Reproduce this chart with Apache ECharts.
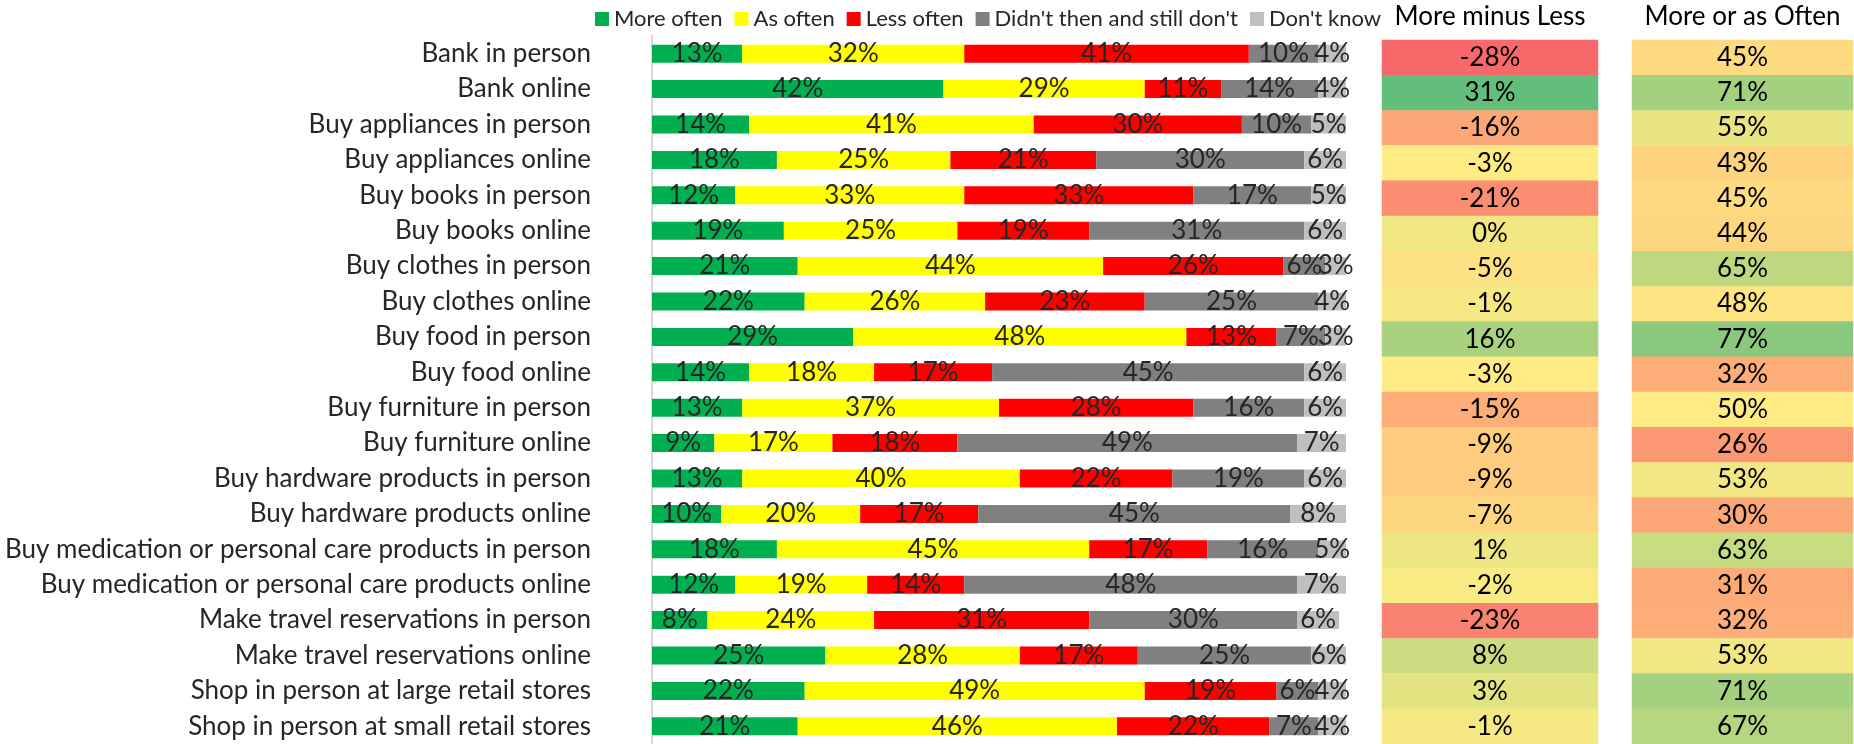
<!DOCTYPE html>
<html>
<head>
<meta charset="utf-8">
<title>More often / less often</title>
<script src="https://cdn.jsdelivr.net/npm/echarts@6/dist/echarts.min.js"></script>
<style>
  html, body { margin: 0; padding: 0; background: #fff; }
  #chart { width: 1854px; height: 744px; }
</style>
</head>
<body>
<div id="chart"></div>
<script>
const categories = [
  "Bank in person",
  "Bank online",
  "Buy appliances in person",
  "Buy appliances online",
  "Buy books in person",
  "Buy books online",
  "Buy clothes in person",
  "Buy clothes online",
  "Buy food in person",
  "Buy food online",
  "Buy furniture in person",
  "Buy furniture online",
  "Buy hardware products in person",
  "Buy hardware products online",
  "Buy medication or personal care products in person",
  "Buy medication or personal care products online",
  "Make travel reservations in person",
  "Make travel reservations online",
  "Shop in person at large retail stores",
  "Shop in person at small retail stores",
];
const seriesNames = ["More often", "As often", "Less often", "Didn't then and still don't", "Don't know"];
const moreOften = [13, 42, 14, 18, 12, 19, 21, 22, 29, 14, 13, 9, 13, 10, 18, 12, 8, 25, 22, 21];
const asOften = [32, 29, 41, 25, 33, 25, 44, 26, 48, 18, 37, 17, 40, 20, 45, 19, 24, 28, 49, 46];
const lessOften = [41, 11, 30, 21, 33, 19, 26, 23, 13, 17, 28, 18, 22, 17, 17, 14, 31, 17, 19, 22];
const didntStill = [10, 14, 10, 30, 17, 31, 6, 25, 7, 45, 16, 49, 19, 45, 16, 48, 30, 25, 6, 7];
const dontKnow = [4, 4, 5, 6, 5, 6, 3, 4, 3, 6, 6, 7, 6, 8, 5, 7, 6, 6, 4, 4];
const moreMinusLess = [-28, 31, -16, -3, -21, 0, -5, -1, 16, -3, -15, -9, -9, -7, 1, -2, -23, 8, 3, -1];
const moreOrAsOften = [45, 71, 55, 43, 45, 44, 65, 48, 77, 32, 50, 26, 53, 30, 63, 31, 32, 53, 71, 67];
const headers = ["More minus Less", "More or as Often"];

const FONT = "Lato";
const TXT = "#262626";
const barColors = ["#00B050", "#FFFF00", "#FF0000", "#808080", "#BFBFBF"];

// excel style 3 colour scale (red - yellow - green)
const RED = [248, 105, 107], YEL = [255, 235, 132], GRN = [99, 190, 123];
function scaleColor(v, lo, mid, hi) {
  let a, b, t;
  if (v <= mid) { a = RED; b = YEL; t = (v - lo) / (mid - lo); }
  else { a = YEL; b = GRN; t = (v - mid) / (hi - mid); }
  t = Math.max(0, Math.min(1, t));
  const c = a.map((x, i) => Math.round(x + (b[i] - x) * t));
  return "rgb(" + c.join(",") + ")";
}

const chart = echarts.init(document.getElementById("chart"));

const barSeries = [moreOften, asOften, lessOften, didntStill, dontKnow].map((arr, i) => ({
  name: seriesNames[i],
  type: "bar",
  stack: "total",
  xAxisIndex: 0,
  yAxisIndex: 0,
  barWidth: 18,
  itemStyle: { color: barColors[i] },
  label: {
    show: true,
    position: "inside",
    formatter: "{c}%",
    color: TXT,
    fontFamily: FONT,
    fontSize: 26,
  },
  emphasis: { disabled: true },
  data: arr,
}));

function heatSeries(arr, idx, lo, mid, hi) {
  return {
    type: "heatmap",
    xAxisIndex: idx,
    yAxisIndex: idx,
    data: arr.map((v, i) => ({
      value: [0, i, v],
      itemStyle: { color: scaleColor(v, lo, mid, hi) },
    })),
    label: {
      show: true,
      formatter: (p) => p.value[2] + "%",
      color: "#000",
      fontFamily: FONT,
      fontSize: 26,
    },
    emphasis: { disabled: true },
  };
}

const gridTop = 36, gridH = 712;
const option = {
  animation: false,
  legend: {
    data: seriesNames,
    left: 590,
    top: 3,
    icon: "rect",
    itemWidth: 14,
    itemHeight: 14,
    itemGap: 12,
    textStyle: { fontFamily: FONT, fontSize: 22, color: TXT },
  },
  grid: [
    { left: 652, width: 694, top: gridTop, height: gridH },
    { left: 1382, width: 216, top: 40, height: gridH },
    { left: 1632, width: 221, top: 40, height: gridH },
  ],
  xAxis: [
    { type: "value", gridIndex: 0, min: 0, max: 100, show: false },
    {
      type: "category", gridIndex: 1, position: "top", data: [headers[0]],
      axisLine: { show: false }, axisTick: { show: false },
      axisLabel: { margin: 10, color: "#000", fontFamily: FONT, fontSize: 26 },
    },
    {
      type: "category", gridIndex: 2, position: "top", data: [headers[1]],
      axisLine: { show: false }, axisTick: { show: false },
      axisLabel: { margin: 10, color: "#000", fontFamily: FONT, fontSize: 26 },
    },
  ],
  yAxis: [
    {
      type: "category", gridIndex: 0, data: categories, inverse: true,
      axisLine: { show: true, lineStyle: { color: "#D9D9D9", width: 2 } },
      axisTick: { show: false },
      axisLabel: { margin: 61, color: TXT, fontFamily: FONT, fontSize: 26 },
    },
    { type: "category", gridIndex: 1, data: categories, inverse: true, show: false },
    { type: "category", gridIndex: 2, data: categories, inverse: true, show: false },
  ],
  series: [
    ...barSeries,
    heatSeries(moreMinusLess, 1, -28, -3, 31),
    heatSeries(moreOrAsOften, 2, 12, 50, 86),
  ],
};
chart.setOption(option);
</script>
</body>
</html>
